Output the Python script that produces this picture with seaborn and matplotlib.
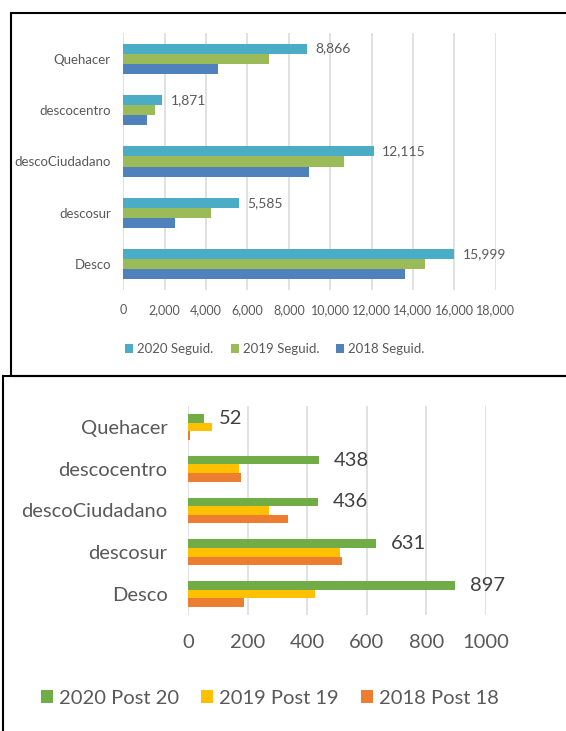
import numpy as np
import pandas as pd
import matplotlib.pyplot as plt
from matplotlib.patches import Rectangle
import seaborn as sns

# -------------------------
# Data
# -------------------------
categories = ["Quehacer", "descocentro", "descoCiudadano", "descosur", "Desco"]

seguid_series = ["2020 Seguid.", "2019 Seguid.", "2018 Seguid."]
seguid_2020 = [8866, 1871, 12115, 5585, 15999]
seguid_2019 = [7050, 1530, 10650, 4250, 14600]
seguid_2018 = [4600, 1150, 8980, 2480, 13600]

post_series = ["2020 Post 20", "2019 Post 19", "2018 Post 18"]
post_2020 = [52, 438, 436, 631, 897]
post_2019 = [80, 172, 272, 509, 426]
post_2018 = [5, 177, 334, 518, 188]

seguid_colors = ["#4BACC6", "#9BBB59", "#4F81BD"]
post_colors = ["#70AD47", "#FFC000", "#ED7D31"]

TEXT = "#595959"
GRID = "#D9D9D9"

sns.set_theme(style="white")
plt.rcParams["font.family"] = ["Lato", "DejaVu Sans"]


def long_frame(series_names, values):
    df = pd.DataFrame({"cat": categories})
    for name, vals in zip(series_names, values):
        df[name] = vals
    return df.melt(id_vars="cat", var_name="serie", value_name="valor")


def style_axis(ax, xmax, step, xfs, yfs, xpad, ypad, fmt):
    ax.set_xlim(0, xmax)
    ticks = np.arange(0, xmax + step, step)
    ax.set_xticks(ticks)
    ax.set_xticklabels([fmt.format(t) for t in ticks])
    ax.grid(axis="x", color=GRID, linewidth=1.1)
    ax.set_axisbelow(True)
    for s in ax.spines.values():
        s.set_visible(False)
    ax.tick_params(axis="x", length=0, pad=xpad, labelsize=xfs, labelcolor=TEXT)
    ax.tick_params(axis="y", length=0, pad=ypad, labelsize=yfs, labelcolor=TEXT)
    ax.set_xlabel("")
    ax.set_ylabel("")


fig = plt.figure(figsize=(5.66, 7.31), dpi=100)

# -------------------------
# Top panel: Seguidores
# -------------------------
ax1 = fig.add_axes([0.2179, 0.6033, 0.6578, 0.3516])
df1 = long_frame(seguid_series, [seguid_2020, seguid_2019, seguid_2018])
sns.barplot(data=df1, y="cat", x="valor", hue="serie", hue_order=seguid_series,
            order=categories, palette=seguid_colors, saturation=1, width=0.59,
            linewidth=0, errorbar=None, orient="h", ax=ax1)
style_axis(ax1, 18000, 2000, 9, 9.5, 10, 9, "{:,.0f}")
ax1.bar_label(ax1.containers[0], fmt="{:,.0f}", padding=6, fontsize=10, color=TEXT)
h1, l1 = ax1.get_legend_handles_labels()
ax1.get_legend().remove()
fig.legend(h1, l1, loc="center", bbox_to_anchor=(275 / 566, 1 - 349 / 731),
           ncol=3, frameon=False, fontsize=9.5, handlelength=0.6, handleheight=0.6,
           handletextpad=0.3, columnspacing=1.3, labelcolor=TEXT)

# -------------------------
# Bottom panel: Posts
# -------------------------
ax2 = fig.add_axes([0.3327, 0.1587, 0.5253, 0.2859])
df2 = long_frame(post_series, [post_2020, post_2019, post_2018])
sns.barplot(data=df2, y="cat", x="valor", hue="serie", hue_order=post_series,
            order=categories, palette=post_colors, saturation=1, width=0.62,
            linewidth=0, errorbar=None, orient="h", ax=ax2)
style_axis(ax2, 1000, 200, 14.5, 14.5, 14, 15, "{:.0f}")
ax2.bar_label(ax2.containers[0], fmt="{:.0f}", padding=11, fontsize=14.5, color="#404040")
h2, l2 = ax2.get_legend_handles_labels()
ax2.get_legend().remove()
fig.legend(h2, l2, loc="center", bbox_to_anchor=(270 / 566, 1 - 698 / 731),
           ncol=3, frameon=False, fontsize=14.5, handlelength=0.6, handleheight=0.6,
           handletextpad=0.3, columnspacing=1.1, labelcolor=TEXT)

# -------------------------
# Panel borders
# -------------------------
top_y0 = 1 - 376 / 731
fig.add_artist(Rectangle((10.5 / 566, top_y0), 1.1, (376 - 13) / 731,
                         transform=fig.transFigure, fill=False,
                         edgecolor="black", linewidth=1.5, clip_on=False))
fig.add_artist(Rectangle((2.5 / 566, -0.1), 1.1, top_y0 + 0.1,
                         transform=fig.transFigure, fill=False,
                         edgecolor="black", linewidth=1.5, clip_on=False))

fig.savefig("out.png", dpi=100)
plt.close(fig)
